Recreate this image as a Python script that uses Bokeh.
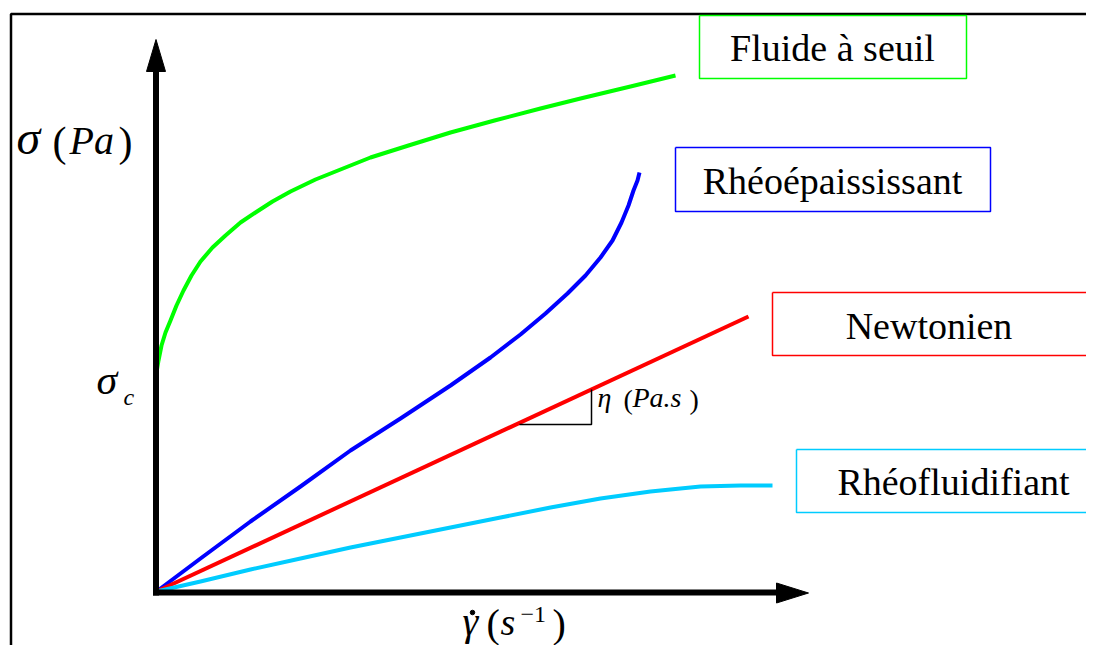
from bokeh.plotting import figure
from bokeh.models import Range1d
from bokeh.core.properties import value
from bokeh.embed import file_html
from bokeh.resources import INLINE

# ---- data (chart units: shear rate gamma-dot, stress sigma; origin at axes corner) ----
# Fluide à seuil (yield-stress fluid)
seuil_x = [0, 2, 5, 9, 14, 20, 27, 35, 44, 56, 69, 84, 99, 116, 134, 159, 184, 214,
           252, 294, 338, 384, 424, 474, 519]
seuil_y = [219, 231, 246, 259, 271, 286, 301, 316, 330, 344, 356, 369, 379, 390, 400,
           412, 422, 434, 446, 459, 471, 483, 493, 505, 516]
# Rhéoépaississant (shear-thickening)
epais_x = [0, 44, 94, 144, 194, 244, 294, 334, 364, 389, 411, 429, 444, 456, 465, 472,
           477, 481, 483]
epais_y = [0, 33, 70, 105, 141, 173, 206, 234, 257, 278, 298, 316, 334, 351, 369, 386,
           401, 411, 419]
# Newtonien
newt_x = [0, 592]
newt_y = [0, 275]
# Rhéofluidifiant (shear-thinning)
fluid_x = [0, 44, 94, 144, 194, 244, 294, 344, 394, 444, 494, 544, 584, 616]
fluid_y = [0, 10, 22, 33, 44, 54, 64, 74, 84, 93, 100, 105, 106, 106]

labels = ["Fluide à seuil", "Rhéoépaississant", "Newtonien", "Rhéofluidifiant"]
colors = ["#00FF00", "#0000FF", "#FF0000", "#00CCFF"]

# ---- page geometry (pixel helpers) ----
W, H = 1086, 645
OX, OY = 156, 591  # pixel of the axes origin


def X(px):
    return px - OX


def Y(py):
    return OY - py


p = figure(width=W, height=H, output_backend="svg", toolbar_location=None,
           x_range=Range1d(X(0), X(W)), y_range=Range1d(Y(H), Y(0)),
           min_border=0)
p.axis.visible = False
p.grid.visible = False
p.outline_line_color = None
p.background_fill_color = "white"

# outer frame (left and top edges visible)
p.line([X(10.5), X(10.5), X(1110)], [Y(700), Y(13.5), Y(13.5)],
       line_color="black", line_width=2.5)

# curves
series = [(seuil_x, seuil_y), (epais_x, epais_y), (newt_x, newt_y), (fluid_x, fluid_y)]
for (xs, ys), c in zip(series, colors):
    p.line(xs, ys, line_color=c, line_width=4, line_join="round", line_cap="butt")

# axes with arrow heads
p.line([X(155.5), X(155.5)], [Y(595), Y(66)], line_color="black", line_width=6)
p.line([X(152.5), X(780)], [Y(592), Y(592)], line_color="black", line_width=6)
p.patch([X(146), X(165), X(155.5)], [Y(71), Y(71), Y(39)], color="black")
p.patch([X(776), X(776), X(808)], [Y(582.5), Y(602.5), Y(592.5)], color="black")

# slope triangle for viscosity
p.line([X(519), X(591), X(591)], [Y(424), Y(424), Y(389)], line_color="black", line_width=1.5)

SERIF = value("Liberation Serif")
SHIFT = 0.33  # baseline correction (fraction of font size)

# label boxes
boxes = [(699, 15, 966, 78), (675, 147, 990, 211), (772, 292, 1087, 355), (796, 449, 1115, 512)]
text_pos = [(832, 60), (832, 193), (928.5, 338), (953, 494)]
for (x0, y0, x1, y1), c in zip(boxes, colors):
    p.line([X(x0), X(x1), X(x1), X(x0), X(x0)], [Y(y0), Y(y0), Y(y1), Y(y1), Y(y0)],
           line_color=c, line_width=1.5)
p.text(x=[X(t[0]) for t in text_pos], y=[Y(t[1] - SHIFT * 38) for t in text_pos], text=labels,
       text_font=SERIF, text_font_size="38px",
       text_align="center", text_baseline="alphabetic", text_color="black")


def txt(px, py, s, size, italic=False, align="left"):
    p.text(x=[X(px)], y=[Y(py - SHIFT * size)], text=[s], text_font=SERIF,
           text_font_size=f"{size}px",
           text_font_style="italic" if italic else "normal",
           text_align=align, text_baseline="alphabetic", text_color="black")


# y axis label sigma (Pa)
txt(16, 153, "σ", 48, italic=True)
txt(52, 155, "(", 42)
txt(69, 153, "Pa", 40, italic=True)
txt(118, 155, ")", 42)

# sigma_c
txt(96, 393, "σ", 42, italic=True)
txt(123, 404, "c", 24, italic=True)

# x axis label gamma-dot (s^-1), lifted slightly to stay inside the figure
LY = 634
txt(462, LY, "γ", 40, italic=True)
p.scatter([X(472)], [Y(LY - 22)], size=4.5, color="black")
txt(486, LY + 2, "(", 40)
txt(500, LY, "s", 38, italic=True)
txt(520, LY - 12, "−1", 24)
txt(552, LY + 2, ")", 40)

# eta (Pa.s)
txt(597, 406, "η", 28, italic=True)
txt(623, 408, "(", 28)
txt(632, 406, "Pa.s", 28, italic=True)
txt(689, 408, ")", 28)

open("out.html", "w").write(file_html(p, INLINE))
